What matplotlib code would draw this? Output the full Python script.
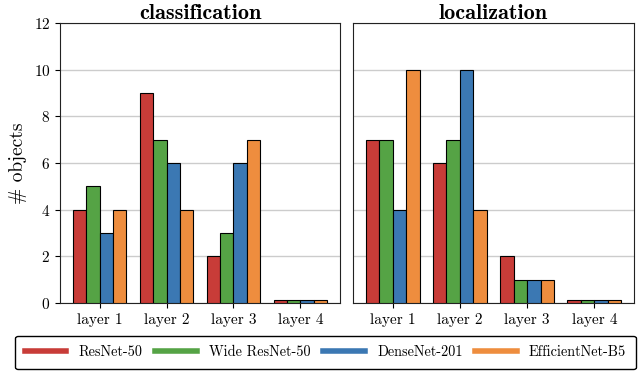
import numpy as np
import matplotlib
matplotlib.use("Agg")
import matplotlib.pyplot as plt
from matplotlib.lines import Line2D

plt.rcParams['font.family'] = 'serif'
plt.rcParams['font.serif'] = ['cmr10', 'DejaVu Serif']
plt.rcParams['axes.formatter.use_mathtext'] = True
plt.rcParams['mathtext.fontset'] = 'cm'

layers = ['layer 1', 'layer 2', 'layer 3', 'layer 4']
models = ['ResNet-50', 'Wide ResNet-50', 'DenseNet-201', 'EfficientNet-B5']
colors = ['#c83c38', '#55a345', '#3b78b3', '#ee8d3e']

# values per model, in layer order (layer 4 is ~0 drawn as a sliver)
cls_resnet = [4, 9, 2, 0.15]
cls_wide = [5, 7, 3, 0.15]
cls_dense = [3, 6, 6, 0.15]
cls_eff = [4, 4, 7, 0.15]

loc_resnet = [7, 6, 2, 0.15]
loc_wide = [7, 7, 1, 0.15]
loc_dense = [4, 10, 1, 0.15]
loc_eff = [10, 4, 1, 0.15]

panels = [
    ('classification', [cls_resnet, cls_wide, cls_dense, cls_eff]),
    ('localization', [loc_resnet, loc_wide, loc_dense, loc_eff]),
]

fig = plt.figure(figsize=(6.4, 3.72), dpi=100)
ax1 = fig.add_axes([60/640, 1-303/372, 280/640, 280/372])
ax2 = fig.add_axes([353/640, 1-303/372, 281/640, 280/372], sharey=ax1)

x = np.arange(len(layers))
w = 0.2
for ax, (title, series) in zip([ax1, ax2], panels):
    for i, vals in enumerate(series):
        ax.bar(x + (i - 1.5) * w, vals, width=w, color=colors[i],
               edgecolor='black', linewidth=0.8, zorder=3)
    ax.set_xticks(x)
    ax.set_xticklabels(layers, fontsize=11)
    ax.set_title(title, fontsize=16, fontfamily='cmb10', pad=2)
    ax.yaxis.grid(True, color='#cccccc', linewidth=1, zorder=0)
    ax.set_axisbelow(True)
    for s in ax.spines.values():
        s.set_color('#222222')

ax1.set_ylim(0, 12)
ax1.set_yticks(range(0, 13, 2))
ax1.tick_params(axis='y', labelsize=11)
ax2.tick_params(axis='y', left=False, labelleft=False)
ax1.set_ylabel('# objects', fontsize=14, labelpad=5)

handles = [Line2D([0], [0], color=c, lw=4) for c in colors]
leg = fig.legend(handles, models, loc='center', ncol=4,
                 bbox_to_anchor=(325.5/640, 1-352.5/372),
                 fontsize=10.3, handlelength=2.9, handletextpad=0.85,
                 columnspacing=0.9, borderpad=0.7, frameon=True, fancybox=True)
leg.get_frame().set_edgecolor('black')
leg.get_frame().set_linewidth(1)
leg.get_frame().set_alpha(1)

fig.savefig('out.png', dpi=100)
